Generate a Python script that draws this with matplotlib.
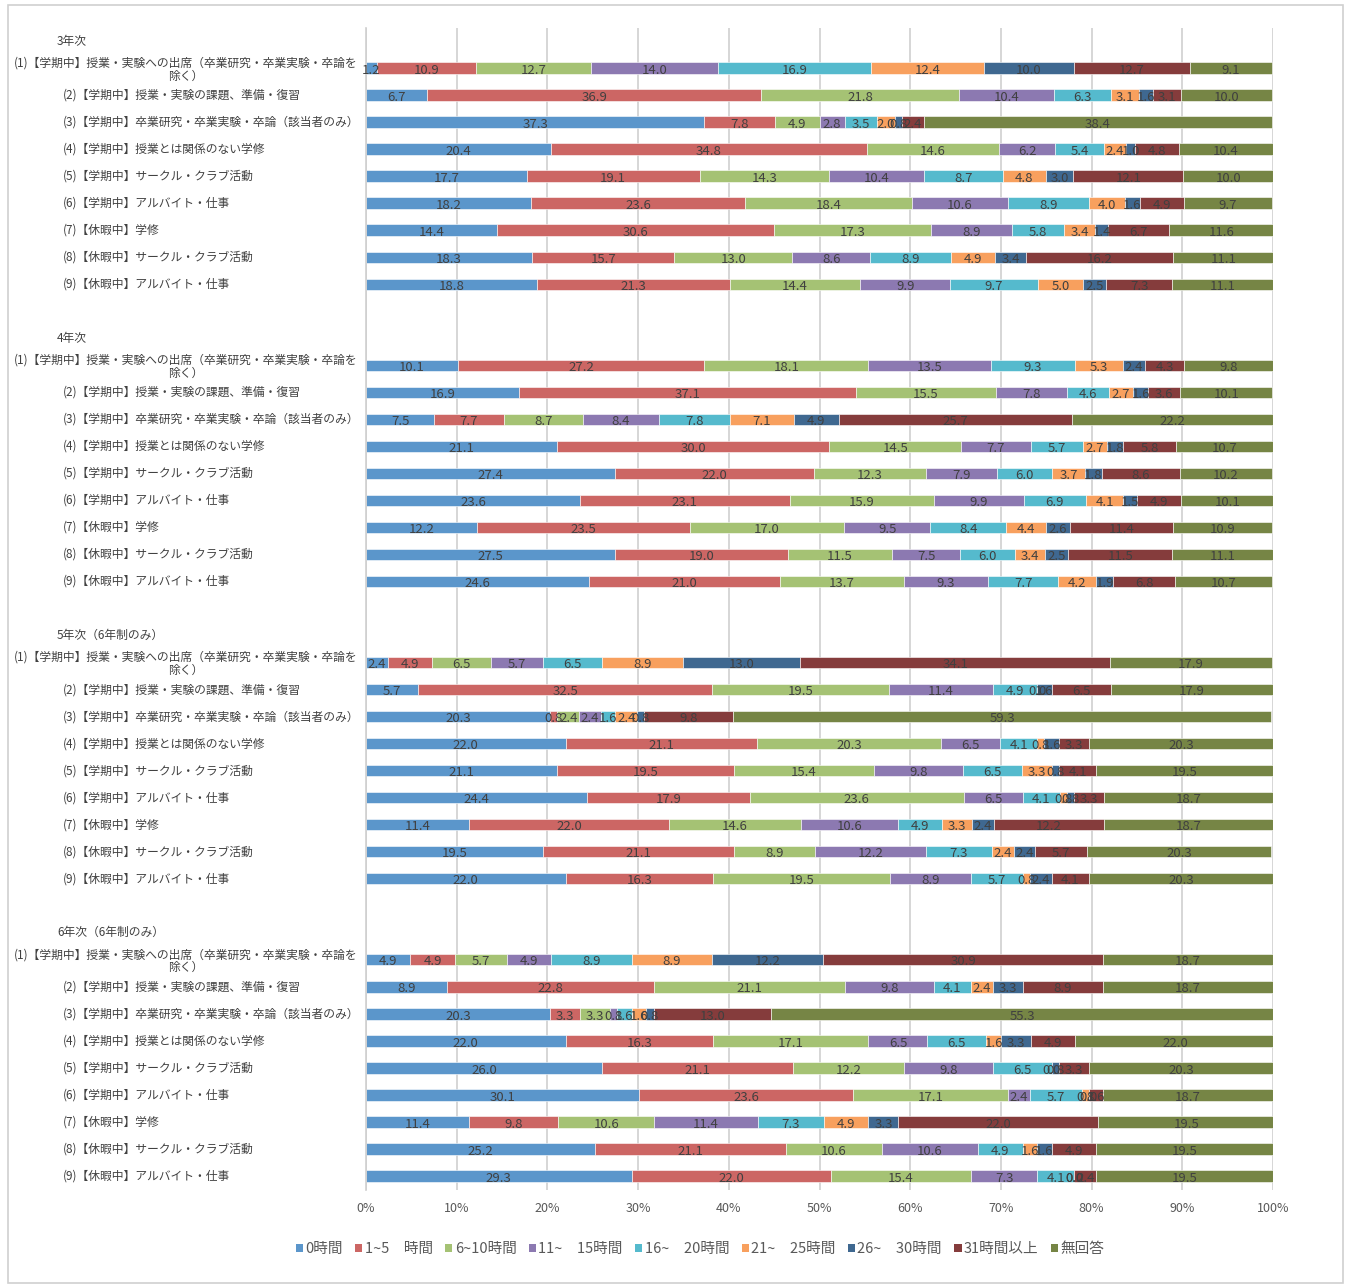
import numpy as np
import matplotlib
matplotlib.use("Agg")
import matplotlib.pyplot as plt
from matplotlib.patches import Patch, Rectangle
from matplotlib.transforms import blended_transform_factory

plt.rcParams['font.family'] = ['Noto Sans CJK JP', 'DejaVu Sans']

# ===============================
# データ
# ===============================

series = ["0時間", "1~5　時間", "6~10時間", "11~　15時間", "16~　20時間",
          "21~　25時間", "26~　30時間", "31時間以上", "無回答"]
colors = ["#5B96CB", "#CC6664", "#A5C274", "#8C79B1", "#55BACD",
          "#F8A05E", "#3F6890", "#853C3C", "#768545"]

groups = ["3年次", "4年次", "5年次（6年制のみ）", "6年次（6年制のみ）"]

items = [
    "(1)【学期中】授業・実験への出席（卒業研究・卒業実験・卒論を\n除く）",
    "(2)【学期中】授業・実験の課題、準備・復習",
    "(3)【学期中】卒業研究・卒業実験・卒論（該当者のみ）",
    "(4)【学期中】授業とは関係のない学修",
    "(5)【学期中】サークル・クラブ活動",
    "(6)【学期中】アルバイト・仕事",
    "(7)【休暇中】学修",
    "(8)【休暇中】サークル・クラブ活動",
    "(9)【休暇中】アルバイト・仕事",
]

vals_3 = [
    [1.2, 10.9, 12.7, 14.0, 16.9, 12.4, 10.0, 12.7, 9.1],
    [6.7, 36.9, 21.8, 10.4, 6.3, 3.1, 1.6, 3.1, 10.0],
    [37.3, 7.8, 4.9, 2.8, 3.5, 2.0, 0.8, 2.4, 38.4],
    [20.4, 34.8, 14.6, 6.2, 5.4, 2.4, 1.0, 4.8, 10.4],
    [17.7, 19.1, 14.3, 10.4, 8.7, 4.8, 3.0, 12.1, 10.0],
    [18.2, 23.6, 18.4, 10.6, 8.9, 4.0, 1.6, 4.9, 9.7],
    [14.4, 30.6, 17.3, 8.9, 5.8, 3.4, 1.4, 6.7, 11.6],
    [18.3, 15.7, 13.0, 8.6, 8.9, 4.9, 3.4, 16.2, 11.1],
    [18.8, 21.3, 14.4, 9.9, 9.7, 5.0, 2.5, 7.3, 11.1],
]
vals_4 = [
    [10.1, 27.2, 18.1, 13.5, 9.3, 5.3, 2.4, 4.3, 9.8],
    [16.9, 37.1, 15.5, 7.8, 4.6, 2.7, 1.6, 3.6, 10.1],
    [7.5, 7.7, 8.7, 8.4, 7.8, 7.1, 4.9, 25.7, 22.2],
    [21.1, 30.0, 14.5, 7.7, 5.7, 2.7, 1.8, 5.8, 10.7],
    [27.4, 22.0, 12.3, 7.9, 6.0, 3.7, 1.8, 8.6, 10.2],
    [23.6, 23.1, 15.9, 9.9, 6.9, 4.1, 1.5, 4.9, 10.1],
    [12.2, 23.5, 17.0, 9.5, 8.4, 4.4, 2.6, 11.4, 10.9],
    [27.5, 19.0, 11.5, 7.5, 6.0, 3.4, 2.5, 11.5, 11.1],
    [24.6, 21.0, 13.7, 9.3, 7.7, 4.2, 1.9, 6.8, 10.7],
]
vals_5 = [
    [2.4, 4.9, 6.5, 5.7, 6.5, 8.9, 13.0, 34.1, 17.9],
    [5.7, 32.5, 19.5, 11.4, 4.9, 0.0, 1.6, 6.5, 17.9],
    [20.3, 0.8, 2.4, 2.4, 1.6, 2.4, 0.8, 9.8, 59.3],
    [22.0, 21.1, 20.3, 6.5, 4.1, 0.8, 1.6, 3.3, 20.3],
    [21.1, 19.5, 15.4, 9.8, 6.5, 3.3, 0.8, 4.1, 19.5],
    [24.4, 17.9, 23.6, 6.5, 4.1, 0.8, 0.8, 3.3, 18.7],
    [11.4, 22.0, 14.6, 10.6, 4.9, 3.3, 2.4, 12.2, 18.7],
    [19.5, 21.1, 8.9, 12.2, 7.3, 2.4, 2.4, 5.7, 20.3],
    [22.0, 16.3, 19.5, 8.9, 5.7, 0.8, 2.4, 4.1, 20.3],
]
vals_6 = [
    [4.9, 4.9, 5.7, 4.9, 8.9, 8.9, 12.2, 30.9, 18.7],
    [8.9, 22.8, 21.1, 9.8, 4.1, 2.4, 3.3, 8.9, 18.7],
    [20.3, 3.3, 3.3, 0.8, 1.6, 1.6, 0.8, 13.0, 55.3],
    [22.0, 16.3, 17.1, 6.5, 6.5, 1.6, 3.3, 4.9, 22.0],
    [26.0, 21.1, 12.2, 9.8, 6.5, 0.0, 0.8, 3.3, 20.3],
    [30.1, 23.6, 17.1, 2.4, 5.7, 0.8, 0.0, 1.6, 18.7],
    [11.4, 9.8, 10.6, 11.4, 7.3, 4.9, 3.3, 22.0, 19.5],
    [25.2, 21.1, 10.6, 10.6, 4.9, 1.6, 1.6, 4.9, 19.5],
    [29.3, 22.0, 15.4, 7.3, 4.1, 0.0, 0.0, 2.4, 19.5],
]
all_vals = [vals_3, vals_4, vals_5, vals_6]

# ===============================
# 図
# ===============================

W, H = 1349, 1287
fig = plt.figure(figsize=(W / 100, H / 100), dpi=100)
fig.patches.append(Rectangle((8 / W, 1 - 1283 / H), 1335 / W, 1278 / H,
                             transform=fig.transFigure, fill=False,
                             edgecolor="#D0D0D0", linewidth=1.2))

ax = fig.add_axes([366 / W, 1 - 1189.5 / H, 907 / W, (1189.5 - 27.5) / H])

n_rows = len(groups) * 11 - 1
lbl_tr = blended_transform_factory(fig.transFigure, ax.transData)
txt_col = "#404040"

for g, (gname, gvals) in enumerate(zip(groups, all_vals)):
    base = g * 11
    ax.text(57 / W, base, gname, transform=lbl_tr, ha="left", va="center",
            fontsize=8.5, color=txt_col)
    for i, (iname, row) in enumerate(zip(items, gvals)):
        y = base + 1 + i
        if "\n" in iname:
            ax.text(186 / W, y + 0.05, iname, transform=lbl_tr, ha="center",
                    va="center", multialignment="center", fontsize=8.5,
                    color=txt_col, linespacing=1.0)
        else:
            ax.text(63 / W, y, iname, transform=lbl_tr, ha="left",
                    va="center", fontsize=8.5, color=txt_col)
        left = 0.0
        for k, v in enumerate(row):
            ax.barh(y, v, left=left, height=0.42, color=colors[k],
                    edgecolor="white", linewidth=0.4)
            ax.text(left + v / 2, y + 0.08, f"{v:.1f}", ha="center",
                    va="center", fontsize=9.5, color=txt_col)
            left += v

ax.set_xlim(0, 100)
ax.set_ylim(n_rows - 0.5, -0.5)
ax.set_xticks(np.arange(0, 101, 10))
ax.set_xticklabels([f"{t}%" for t in range(0, 101, 10)], fontsize=9,
                   color="#595959")
ax.set_yticks([])
ax.tick_params(axis="x", length=0, pad=9)
ax.grid(axis="x", color="#CFCFCF", linewidth=1.2)
ax.set_axisbelow(True)
for side in ["top", "right", "bottom"]:
    ax.spines[side].set_visible(False)
ax.spines["left"].set_color("#CFCFCF")
ax.spines["left"].set_linewidth(1.2)

handles = [Patch(facecolor=c, edgecolor="none") for c in colors]
fig.legend(handles, series, loc="center", bbox_to_anchor=(700 / W, 1 - 1249 / H),
           ncol=len(series), frameon=False, fontsize=10.5, handlelength=0.5,
           handleheight=0.5, handletextpad=0.15, columnspacing=0.85,
           labelcolor="#595959")

plt.savefig("out.png", dpi=100)
